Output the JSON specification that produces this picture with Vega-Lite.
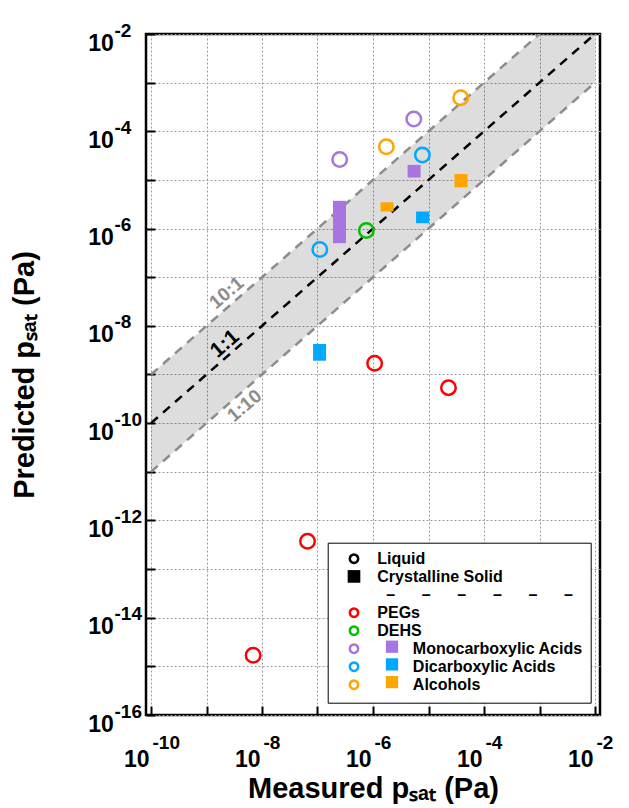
{
  "$schema": "https://vega.github.io/schema/vega-lite/v6.json",
  "width": 454,
  "height": 681,
  "autosize": {"type": "none"},
  "padding": {"left": 146, "top": 34, "right": 29, "bottom": 93},
  "background": "white",
  "config": {
    "view": {"stroke": "black", "strokeWidth": 2.5},
    "font": "Liberation Sans"
  },
  "datasets": {
    "band": [
      {"x": 1e-10, "y": 1e-11, "y2": 1e-9},
      {"x": 1e-2, "y": 1e-3, "y2": 1e-1}
    ],
    "lines": [
      {"x": 1e-10, "y": 1e-9, "line": "10:1"},
      {"x": 1e-2, "y": 1e-1, "line": "10:1"},
      {"x": 1e-10, "y": 1e-11, "line": "1:10"},
      {"x": 1e-2, "y": 1e-3, "line": "1:10"},
      {"x": 1e-10, "y": 1e-10, "line": "1:1"},
      {"x": 1e-2, "y": 1e-2, "line": "1:1"}
    ],
    "grayLabels": [
      {"x": 2.3e-9, "y": 4.8e-8, "label": "10:1"},
      {"x": 4.85e-9, "y": 2.28e-10, "label": "1:10"}
    ],
    "blackLabels": [
      {"x": 2.16e-9, "y": 4.24e-9, "label": "1:1"}
    ],
    "solids": [
      {"x": 5.5e-6, "y": 2.04e-5, "y2": 1.12e-5, "group": "mono", "phase": "sol"},
      {"x": 2.49e-7, "y": 3.72e-6, "y2": 5.01e-7, "group": "mono", "phase": "sol"},
      {"x": 7.82e-6, "y": 2.24e-6, "y2": 1.29e-6, "group": "di", "phase": "sol"},
      {"x": 1.09e-7, "y": 4.24e-9, "y2": 1.92e-9, "group": "di", "phase": "sol"},
      {"x": 1.79e-6, "y": 3.47e-6, "y2": 2.24e-6, "group": "alc", "phase": "sol"},
      {"x": 3.85e-5, "y": 1.32e-5, "y2": 7.05e-6, "group": "alc", "phase": "sol"}
    ],
    "liquids": [
      {"x": 6.92e-9, "y": 1.7e-15, "group": "peg"},
      {"x": 6.61e-8, "y": 3.72e-13, "group": "peg"},
      {"x": 1.07e-6, "y": 1.7e-9, "group": "peg"},
      {"x": 2.29e-5, "y": 5.37e-10, "group": "peg"},
      {"x": 7.59e-7, "y": 9.12e-7, "group": "dehs"},
      {"x": 2.51e-7, "y": 2.63e-5, "group": "mono"},
      {"x": 5.43e-6, "y": 1.78e-4, "group": "mono"},
      {"x": 1.1e-7, "y": 3.72e-7, "group": "di"},
      {"x": 7.76e-6, "y": 3.24e-5, "group": "di"},
      {"x": 1.74e-6, "y": 4.79e-5, "group": "alc"},
      {"x": 3.8e-5, "y": 4.9e-4, "group": "alc"}
    ]
  },
  "layer": [
    {
      "encoding": {
        "x": {
          "field": "x", "type": "quantitative",
          "scale": {"type": "log", "domain": [1e-10, 1e-2], "nice": false},
          "axis": {
            "orient": "bottom",
            "values": [1e-10, 1e-9, 1e-8, 1e-7, 1e-6, 1e-5, 1e-4, 1e-3, 1e-2],
            "labelExpr": "round(log(datum.value)/LN10) % 2 == 0 ? '10' : ''",
            "labelFont": "Liberation Sans", "labelFontSize": 23, "labelFontWeight": "bold", "labelColor": "black",
            "labelAlign": "right", "labelBaseline": "alphabetic", "labelOffset": -2, "labelPadding": 60.7,
            "labelFlush": false, "labelOverlap": false, "labelBound": false,
            "tickSize": -9, "tickWidth": 2, "tickColor": "black",
            "domain": false,
            "grid": true, "gridColor": "#9a9a9a", "gridDash": [2, 2], "gridWidth": 1,
            "title": "Measured pₛₐₜ (Pa)",
            "titleFont": "Liberation Sans", "titleFontSize": 29, "titleFontWeight": "bold", "titleColor": "black",
            "titlePadding": 3
          }
        },
        "y": {
          "field": "y", "type": "quantitative",
          "scale": {"type": "log", "domain": [1e-16, 1e-2], "nice": false},
          "axis": {
            "orient": "left",
            "values": [1e-16, 1e-15, 1e-14, 1e-13, 1e-12, 1e-11, 1e-10, 1e-9, 1e-8, 1e-7, 1e-6, 1e-5, 1e-4, 1e-3, 1e-2],
            "labelExpr": "round(log(datum.value)/LN10) % 2 == 0 ? '10' : ''",
            "labelFont": "Liberation Sans", "labelFontSize": 23, "labelFontWeight": "bold", "labelColor": "black",
            "labelAlign": "right", "labelBaseline": "middle", "labelOffset": 9, "labelPadding": 41.7,
            "labelFlush": false, "labelOverlap": false, "labelBound": false,
            "tickSize": -9, "tickWidth": 2, "tickColor": "black",
            "domain": false,
            "grid": true, "gridColor": "#9a9a9a", "gridDash": [2, 2], "gridWidth": 1,
            "title": "Predicted pₛₐₜ (Pa)",
            "titleFont": "Liberation Sans", "titleFontSize": 29, "titleFontWeight": "bold", "titleColor": "black",
            "titlePadding": 48
          }
        }
      },
      "layer": [
        {
          "data": {"name": "band"},
          "mark": {"type": "area", "clip": true, "color": "#000000", "opacity": 0.135},
          "encoding": {"y2": {"field": "y2"}}
        },
        {
          "data": {"name": "lines"},
          "mark": {"type": "line", "clip": true, "strokeWidth": 2.5, "strokeDash": [9, 7]},
          "encoding": {
            "stroke": {
              "field": "line", "type": "nominal",
              "scale": {"domain": ["10:1", "1:1", "1:10"], "range": ["#8c8c8c", "#000000", "#8c8c8c"]},
              "legend": null
            }
          }
        },
        {
          "data": {"name": "grayLabels"},
          "mark": {"type": "text", "angle": -40.6, "align": "center", "baseline": "middle", "font": "Liberation Sans", "fontSize": 19, "fontWeight": "bold", "color": "#8c8c8c"},
          "encoding": {"text": {"field": "label", "type": "nominal"}}
        },
        {
          "data": {"name": "blackLabels"},
          "mark": {"type": "text", "angle": -40.6, "align": "center", "baseline": "middle", "font": "Liberation Sans", "fontSize": 21, "fontWeight": "bold", "color": "#000000"},
          "encoding": {"text": {"field": "label", "type": "nominal"}}
        },
        {
          "data": {"name": "solids"},
          "mark": {"type": "bar", "width": 13, "opacity": 1, "color": "black"},
          "encoding": {
            "y2": {"field": "y2"},
            "color": {
              "field": "group", "type": "nominal",
              "scale": {"domain": ["mono", "di", "alc"], "range": ["#a874e0", "#00a8ff", "#ffa500"]},
              "legend": {
                "orient": "none", "legendX": 238, "legendY": 604.7, "title": null,
                "symbolType": "square", "symbolSize": 150, "symbolStrokeWidth": 0,
                "labelExpr": "'\u00a0'", "labelFont": "Liberation Sans", "labelFontSize": 16, "labelFontWeight": "bold",
                "rowPadding": 1.7, "padding": 0, "zindex": 2
              }
            },
            "opacity": {
              "field": "phase", "type": "ordinal",
              "scale": {"domain": ["sol"], "range": [1]},
              "legend": {
                "orient": "none", "legendX": 200, "legendY": 534.4, "title": null,
                "symbolType": "square", "symbolSize": 160, "symbolStrokeWidth": 0, "symbolFillColor": "black",
                "labelExpr": "'\u00a0'", "labelFont": "Liberation Sans", "labelFontSize": 16,
                "padding": 0, "zindex": 3
              }
            }
          }
        }
      ]
    },
    {
      "data": {"name": "liquids"},
      "mark": {"type": "point", "shape": "circle", "filled": false, "strokeWidth": 2.5, "size": 210, "opacity": 1},
      "encoding": {
        "x": {
          "field": "x", "type": "quantitative",
          "scale": {"type": "log", "domain": [1e-10, 1e-2], "nice": false},
          "axis": {
            "orient": "bottom",
            "values": [1e-10, 1e-9, 1e-8, 1e-7, 1e-6, 1e-5, 1e-4, 1e-3, 1e-2],
            "labelExpr": "round(log(datum.value)/LN10) % 2 == 0 ? '' + round(log(datum.value)/LN10) : ''",
            "labelFont": "Liberation Sans", "labelFontSize": 19, "labelFontWeight": "bold", "labelColor": "black",
            "labelAlign": "left", "labelBaseline": "alphabetic", "labelOffset": 1, "labelPadding": 33,
            "labelFlush": false, "labelOverlap": false, "labelBound": false,
            "ticks": false, "domain": false, "grid": false, "title": null
          }
        },
        "y": {
          "field": "y", "type": "quantitative",
          "scale": {"type": "log", "domain": [1e-16, 1e-2], "nice": false},
          "axis": {
            "orient": "left",
            "values": [1e-16, 1e-15, 1e-14, 1e-13, 1e-12, 1e-11, 1e-10, 1e-9, 1e-8, 1e-7, 1e-6, 1e-5, 1e-4, 1e-3, 1e-2],
            "labelExpr": "round(log(datum.value)/LN10) % 2 == 0 ? '' + round(log(datum.value)/LN10) : ''",
            "labelFont": "Liberation Sans", "labelFontSize": 19, "labelFontWeight": "bold", "labelColor": "black",
            "labelAlign": "left", "labelBaseline": "middle", "labelOffset": -4, "labelPadding": 32,
            "labelFlush": false, "labelOverlap": false, "labelBound": false,
            "ticks": false, "domain": false, "grid": false, "title": null
          }
        },
        "color": {
          "field": "group", "type": "nominal",
          "scale": {
            "domain": ["liq", "sol", "sep", "peg", "dehs", "mono", "di", "alc"],
            "range": ["#000000", "#000000", "transparent", "#ff0000", "#00c000", "#a874e0", "#00a8ff", "#ffa500"]
          },
          "legend": {
            "orient": "none", "legendX": 181.7, "legendY": 508.7, "title": null,
            "symbolSize": 70, "symbolStrokeWidth": 2.5, "symbolOffset": 10.3,
            "labelFont": "Liberation Sans", "labelFontSize": 16, "labelFontWeight": "bold", "labelColor": "black",
            "labelLimit": 400, "labelOffset": 15.3,
            "labelExpr": "datum.value === 'liq' ? 'Liquid' : (datum.value === 'sol' ? 'Crystalline Solid' : (datum.value === 'sep' ? '\u200b\u00a0\u00a0\u2013\u00a0\u00a0\u00a0\u00a0\u00a0\u00a0\u2013\u00a0\u00a0\u00a0\u00a0\u00a0\u00a0\u2013\u00a0\u00a0\u00a0\u00a0\u00a0\u00a0\u2013\u00a0\u00a0\u00a0\u00a0\u00a0\u00a0\u2013\u00a0\u00a0\u00a0\u00a0\u00a0\u00a0\u2013' : (datum.value === 'peg' ? 'PEGs' : (datum.value === 'dehs' ? 'DEHS' : (datum.value === 'mono' ? '\u200b\u00a0\u00a0\u00a0\u00a0\u00a0\u00a0\u00a0\u00a0Monocarboxylic Acids' : (datum.value === 'di' ? '\u200b\u00a0\u00a0\u00a0\u00a0\u00a0\u00a0\u00a0\u00a0Dicarboxylic Acids' : '\u200b\u00a0\u00a0\u00a0\u00a0\u00a0\u00a0\u00a0\u00a0Alcohols'))))))",
            "rowPadding": -6.6, "padding": 8,
            "strokeColor": "black", "fillColor": "white", "zindex": 1
          }
        }
      }
    }
  ],
  "resolve": {
    "scale": {"color": "independent"},
    "axis": {"x": "independent", "y": "independent"}
  }
}
